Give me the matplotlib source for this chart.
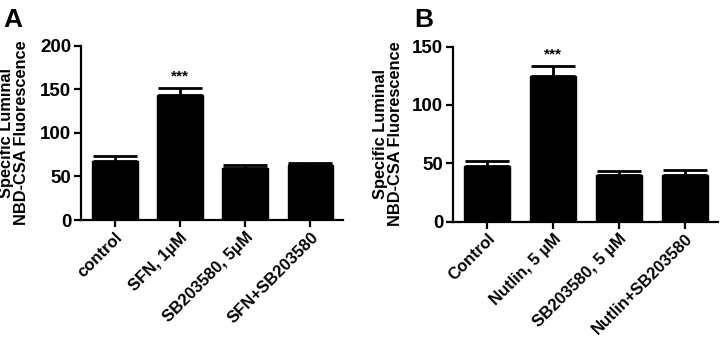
import matplotlib
matplotlib.use("Agg")
import matplotlib.pyplot as plt
import numpy as np

plt.rcParams['font.family'] = ['Liberation Sans', 'DejaVu Sans']
plt.rcParams['font.weight'] = 'bold'

cats_a = ["control", "SFN, 1\u00b5M", "SB203580, 5\u00b5M", "SFN+SB203580"]
vals_a = [68, 144, 59.5, 63.5]
errs_a = [5, 7.5, 3.5, 2.5]
ticks_a = [0, 50, 100, 150, 200]

cats_b = ["Control", "Nutlin, 5 \u00b5M", "SB203580, 5 \u00b5M", "Nutlin+SB203580"]
vals_b = [48, 125, 40, 40]
errs_b = [3.5, 8.5, 3.5, 4.5]
ticks_b = [0, 50, 100, 150]

ylabel = "Specific Luminal\nNBD-CSA Fluorescence"

fig = plt.figure(figsize=(7.2, 3.42), dpi=100)
axA = fig.add_axes([0.1125, 0.3567, 0.364, 0.509])
axB = fig.add_axes([0.629, 0.352, 0.368, 0.512])

def draw(ax, cats, vals, errs, ticks, sig_idx, lab_x):
    x = np.arange(len(cats))
    ax.bar(x, vals, width=0.70, color='black', edgecolor='black', linewidth=1, zorder=2)
    ax.errorbar(x, vals, yerr=[np.zeros(len(errs)), errs], fmt='none', ecolor='black',
                elinewidth=2, capsize=16, capthick=2, zorder=3)
    ax.set_xlim(-0.52, 3.5)
    ax.set_ylim(ticks[0], ticks[-1])
    ax.set_yticks(ticks)
    ax.set_xticks(x)
    ax.set_xticklabels(cats, rotation=45, ha='right', rotation_mode='anchor', fontsize=12, fontweight='bold')
    for lab in ax.get_yticklabels():
        lab.set_fontsize(13.5)
        lab.set_fontweight('bold')
    for s in ['top', 'right']:
        ax.spines[s].set_visible(False)
    for s in ['left', 'bottom']:
        ax.spines[s].set_linewidth(1.6)
    ax.tick_params(axis='both', direction='out', length=5, width=1.6, pad=2)
    ax.set_ylabel(ylabel, fontsize=11.8, fontweight='bold', linespacing=1.0)
    ax.yaxis.set_label_coords(lab_x, 0.5)
    i = sig_idx
    ax.text(x[i], vals[i] + errs[i] + (ticks[-1] * 0.025), "***", ha='center', va='bottom',
            fontsize=11, fontweight='bold')

draw(axA, cats_a, vals_a, errs_a, ticks_a, 1, -0.198)
draw(axB, cats_b, vals_b, errs_b, ticks_b, 1, -0.188)

fig.text(0.004, 0.978, "A", fontsize=19, fontweight='bold', va='top', ha='left')
fig.text(0.575, 0.978, "B", fontsize=19, fontweight='bold', va='top', ha='left')

fig.savefig("out.png", dpi=100)
